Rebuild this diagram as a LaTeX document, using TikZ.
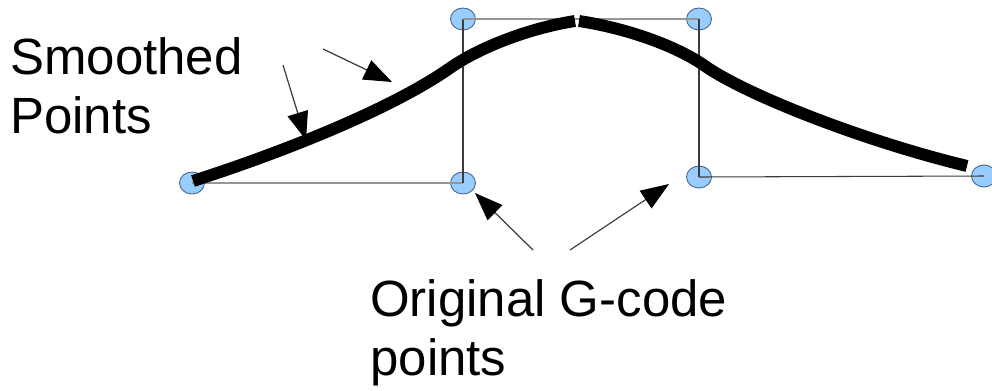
\documentclass[tikz,border=0pt]{standalone}
\usepackage{fontspec}
\setmainfont{Liberation Sans}
\usepackage{tikz}
\usetikzlibrary{shapes.geometric, arrows.meta, positioning}
\definecolor{pointblue}{RGB}{153, 204, 255}
\definecolor{pointedge}{RGB}{70, 100, 140}
\definecolor{guidegray}{RGB}{150, 150, 150}
\definecolor{guidedark}{RGB}{60, 60, 60}

\tikzset{
    gpoint/.style={ellipse, fill=pointblue, draw=pointedge, line width=0.5pt,
                   minimum width=0.5cm, minimum height=0.44cm, inner sep=0pt},
    guide/.style={draw=guidedark, line width=0.6pt},
    faintguide/.style={draw=guidegray, line width=0.7pt},
    smoothed/.style={line width=6.8pt, line cap=butt},
    pointer/.style={draw=guidedark, line width=0.7pt,
                    -{Triangle[length=16pt, width=12pt, black]}},
    bigtext/.style={inner sep=0pt, align=left,
                    font=\fontsize{29pt}{33.5pt}\selectfont}
}

\begin{document}
\begin{tikzpicture}[x=0.02cm, y=-0.02cm]
    \useasboundingbox (0,0) rectangle (992,390);
    % original g-code points
    \node[gpoint] (A) at (192,183) {};
    \node[gpoint] (B) at (463,183) {};
    \node[gpoint] (C) at (463,19) {};
    \node[gpoint] (D) at (699,19) {};
    \node[gpoint] (E) at (699,177) {};
    \node[gpoint] (F) at (984,176) {};
    \draw[faintguide] (A.center) -- (B.center);
    \draw[guide] (B.center) -- (C.center);
    \draw[faintguide] (C.center) -- (D.center);
    \draw[guide] (D.center) -- (E.center);
    \draw[guide] (E.center) -- (F.center);
    % smoothed path
    \coordinate (K1) at (450,68);
    \coordinate (T1) at (575,21);
    \coordinate (T2) at (579,21);
    \coordinate (K2) at (705,66);
    \draw[smoothed] (193,181) .. controls (280,153) and (390,110) .. (K1)
        .. controls (480,47) and (530,28) .. (T1);
    \draw[smoothed] (T2) .. controls (625,28) and (675,45) .. (K2)
        .. controls (745,94) and (860,140) .. (967,166);
    % labels
    \node[bigtext, anchor=north west] (smoothlbl) at (10,37)
        {Smoothed\\Points};
    \node[bigtext, anchor=north west] (gcodelbl) at (370,279)
        {Original G-code\\points};
    \coordinate (s1tail) at (283,65);
    \coordinate (s1tip) at (306,140);
    \coordinate (s2tail) at (323,49);
    \coordinate (s2tip) at (392,82);
    \coordinate (g1tail) at (533,250);
    \coordinate (g1tip) at (475,193);
    \coordinate (g2tail) at (570,250);
    \coordinate (g2tip) at (669,184);
    \draw[pointer] (s1tail) -- (s1tip);
    \draw[pointer] (s2tail) -- (s2tip);
    \draw[pointer] (g1tail) -- (g1tip);
    \draw[pointer] (g2tail) -- (g2tip);
\end{tikzpicture}
\end{document}
